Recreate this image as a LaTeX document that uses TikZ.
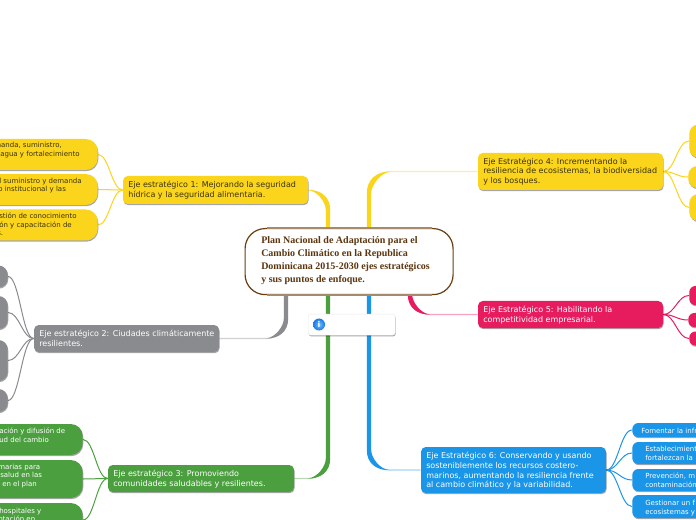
\documentclass[tikz,border=0pt]{standalone}
\usepackage{fontspec}
\setmainfont{DejaVu Sans}
\newfontfamily\titlefont{Liberation Serif}
\usetikzlibrary{calc,shadows,backgrounds}
\definecolor{cyel}{HTML}{FBD51C}
\definecolor{cgry}{HTML}{8A8B8E}
\definecolor{cgrn}{HTML}{4B9F3F}
\definecolor{cpnk}{HTML}{E61C5F}
\definecolor{cblu}{HTML}{1B95E8}
\definecolor{cbrn}{HTML}{6B3E10}
\definecolor{ctan}{HTML}{A58B6B}
\definecolor{ctxt}{HTML}{3A3208}
\tikzset{
  x=0.75pt,y=-0.75pt,
  wh/.style 2 args={minimum width=#1*0.75pt,minimum height=#2*0.75pt},
  shad/.style={general shadow={shadow xshift=0.4pt,shadow yshift=-0.9pt,fill=black,opacity=0.35}},
  mainbox/.style={rectangle,rounded corners=3.6pt,fill=#1,shad,inner sep=0pt,anchor=center},
  subbox/.style={rectangle,rounded corners=9pt,fill=#1,shad,inner sep=0pt},
  blob/.style={rectangle,rounded corners=7pt,fill=#1,shad,inner sep=0pt,anchor=west},
  tinyblob/.style={blob=#1,rounded corners=4.6pt},
  mtxt/.style={font=\fontsize{6pt}{7.3pt}\selectfont,align=left,anchor=north west,inner sep=0pt,text=#1},
  stxt/.style={font=\fontsize{5.25pt}{6.5pt}\selectfont,anchor=base west,inner sep=0pt,text=#1},
  twig/.style={draw=#1,line width=0.75pt},
}
% #1 colour, #2 node point, #3 point on centre, #4 x sign, #5 y sign, #6 radius
\newcommand{\limb}[6]{%
  \draw[#1!40,line width=0.9pt,rounded corners=#6*0.75pt] (#2) -| (#3);
  \coordinate (K) at (#3 |- #2);
  \fill[#1] ($(K)+(#4*#6,0)$)
    .. controls ($(K)+(#4*#6*0.35,-#5*0.3)$) and ($(K)+(-#4*2.2,#5*#6*0.35)$) .. ($(K)+(-#4*2.2,#5*#6)$)
    -- ($(#3)+(-#4*2.2,0)$) -- ($(#3)+(#4*2.2,0)$) -- ($(K)+(#4*2.2,#5*#6)$)
    .. controls ($(K)+(#4*2.2,#5*#6*0.6)$) and ($(K)+(#4*#6*0.55,#5*0.7)$) .. ($(K)+(#4*#6,0)$) -- cycle;
}
\newcommand{\twg}[3]{\draw[twig=#1] (#2) .. controls ($(#2)!0.45!(#2 -| #3)$) and ($(#3)!0.45!(#3 -| #2)$) .. (#3);}
\begin{document}
\begin{tikzpicture}
\useasboundingbox (0,0) rectangle (696,520);
\clip (0,0) rectangle (696,520);

% centre
\node[rectangle,rounded corners=15pt,draw=cbrn,line width=0.9pt,fill=white,wh={208}{66},anchor=north west,inner sep=0pt] (c) at (244.5,228) {};
\draw[ctan,line width=1.1pt] ($(c.north west)+(22,0)$) -- ($(c.north east)+(-22,0)$);
\draw[ctan,line width=1.1pt] ($(c.south west)+(22,0)$) -- ($(c.south east)+(-22,0)$);
\node[font=\titlefont\bfseries\fontsize{7.5pt}{9.8pt}\selectfont,text=cbrn!85!black,align=left,anchor=north west,inner sep=0pt] (ctext) at (261,236.5) {Plan Nacional de Adaptación para el\\Cambio Climático en la Republica\\Dominicana 2015-2030 ejes estratégicos\\y sus puntos de enfoque.};
\coordinate (cy1) at (328,228);
\coordinate (cy2) at (369,228);
\coordinate (cg1) at (286,294);
\coordinate (cg2) at (328,294);
\coordinate (cb) at (369,294);
\coordinate (cp) at (410,294);

% info
\node[rectangle,rounded corners=2pt,fill=white,draw=black!8,line width=0.3pt,shad,wh={87}{21},anchor=north west] (info) at (308,314) {};
\shade[inner color=cblu!60!white,outer color=cblu!80!blue] (319,324.5) circle[radius=6];
\node[font=\bfseries\fontsize{6pt}{6pt}\selectfont,text=white,inner sep=0pt] (infoi) at (319,324.5) {i};

% axis 1
\node[mainbox=cyel,wh={185}{28}] (m1) at (215.5,190) {};
\node[mtxt=ctxt] (m1t) at (128,181) {Eje estratégico 1: Mejorando la seguridad\\hídrica y la seguridad alimentaria.};
\node[subbox=cyel,wh={160}{31},anchor=east] (a1) at (98,154.5) {};
\node[subbox=cyel,wh={160}{31},anchor=east] (a2) at (98,189.5) {};
\node[subbox=cyel,wh={160}{31},anchor=east] (a3) at (98,225) {};
\node[stxt=ctxt] (a1x) at (-6,148) {manda, suministro,};
\node[stxt=ctxt] (a1y) at (0,157) {agua y fortalecimiento};
\node[stxt=ctxt] (a2x) at (-1,184) {l suministro y demanda};
\node[stxt=ctxt] (a2y) at (-2,192) {o institucional y las};
\node[stxt=ctxt] (a3x) at (-1,219) {stión de conocimiento};
\node[stxt=ctxt] (a3y) at (-1,228) {ón y capacitación de};
\node[stxt=ctxt] (a3z) at (-3,236) {s.};

% axis 2
\node[mainbox=cgry,wh={185}{27}] (m2) at (126.5,338.5) {};
\node[mtxt=white] (m2t) at (39,330) {Eje estratégico 2: Ciudades climáticamente\\resilientes.};
\node[blob=cgry,wh={60}{22},anchor=east] (b1) at (8,276.5) {};
\node[blob=cgry,wh={60}{33},anchor=east] (b2) at (8,312.5) {};
\node[blob=cgry,wh={60}{41},anchor=east] (b3) at (8,360.5) {};
\node[blob=cgry,wh={60}{23},anchor=east] (b4) at (8,400.5) {};

% axis 3
\node[mainbox=cgrn,wh={186}{27}] (m3) at (201,478.5) {};
\node[mtxt=white] (m3t) at (113,470) {Eje estratégico 3: Promoviendo\\comunidades saludables y resilientes.};
\node[subbox=cgrn,wh={160}{31},anchor=east] (d1) at (83,439.5) {};
\node[subbox=cgrn,wh={160}{38},anchor=east] (d2) at (83,479) {};
\node[subbox=cgrn,wh={160}{34},anchor=east] (d3) at (83,520) {};
\node[stxt=white] (d1x) at (-1,433) {ación  y difusión de};
\node[stxt=white] (d1y) at (-1,442) {ud del cambio};
\node[stxt=white] (d2x) at (-2,469) {marias para};
\node[stxt=white] (d2y) at (0,477) {salud en las};
\node[stxt=white] (d2z) at (2,486) {en el plan};
\node[stxt=white] (d3x) at (-1,513) {hospitales y};
\node[stxt=white] (d3y) at (-2,521) {ptación en};

% axis 4
\node[mainbox=cyel,wh={185}{37}] (m4) at (570.5,171.5) {};
\node[mtxt=ctxt] (m4t) at (483,157.5) {Eje Estratégico 4: Incrementando la\\resiliencia de ecosistemas, la biodiversidad\\y los bosques.};
\node[blob=cyel,wh={60}{33}] (e1) at (689,141) {};
\node[blob=cyel,wh={60}{22}] (e2) at (688,177) {};
\node[blob=cyel,wh={60}{27}] (e3) at (689,207.5) {};

% axis 5
\node[mainbox=cpnk,wh={185}{27}] (m5) at (570.5,314.5) {};
\node[mtxt=white] (m5t) at (483,306) {Eje Estratégico 5: Habilitando la\\competitividad empresarial.};
\node[tinyblob=cpnk,wh={60}{19}] (f1) at (689,295.5) {};
\node[tinyblob=cpnk,wh={60}{14}] (f2) at (688,320) {};
\node[tinyblob=cpnk,wh={60}{14}] (f3) at (689,338.5) {};

% axis 6
\node[mainbox=cblu,wh={185}{46}] (m6) at (513.5,470) {};
\node[mtxt=white] (m6t) at (426,452) {Eje Estratégico 6: Conservando y usando\\sosteniblemente los recursos costero-\\marinos, aumentando la resiliencia frente\\al cambio climático y la variabilidad.};
\node[tinyblob=cblu,wh={120}{14}] (g1) at (632,430) {};
\node[tinyblob=cblu,wh={120}{22}] (g2) at (632,453) {};
\node[tinyblob=cblu,wh={120}{22}] (g3) at (632,480) {};
\node[tinyblob=cblu,wh={120}{23}] (g4) at (632,506.5) {};
\node[stxt=white] (g1x) at (641,433) {Fomentar la infr};
\node[stxt=white] (g2x) at (645,451) {Establecimient};
\node[stxt=white] (g2y) at (645,460) {fortalezcan la};
\node[stxt=white] (g3x) at (645,478) {Prevención, m};
\node[stxt=white] (g3y) at (645,487) {contaminación};
\node[stxt=white] (g4x) at (645,505) {Gestionar un f};
\node[stxt=white] (g4y) at (645,514) {ecosistemas y};

\begin{pgfonlayer}{background}
  \fill[white] (0,0) rectangle (696,520);
  \limb{cyel}{m1.east}{cy1}{-1}{1}{20}
  \limb{cyel}{m4.west}{cy2}{1}{1}{22}
  \limb{cgry}{m2.east}{cg1}{-1}{-1}{20}
  \limb{cgrn}{m3.east}{cg2}{-1}{-1}{20}
  \limb{cblu}{m6.west}{cb}{1}{-1}{20}
  \limb{cpnk}{m5.west}{cp}{1}{-1}{20}
  \twg{cyel}{m1.west}{a1.east}\twg{cyel}{m1.west}{a2.east}\twg{cyel}{m1.west}{a3.east}
  \twg{cgry}{m2.west}{b1.east}\twg{cgry}{m2.west}{b2.east}\twg{cgry}{m2.west}{b3.east}\twg{cgry}{m2.west}{b4.east}
  \twg{cgrn}{m3.west}{d1.east}\twg{cgrn}{m3.west}{d2.east}\twg{cgrn}{m3.west}{d3.east}
  \twg{cyel}{m4.east}{e1.west}\twg{cyel}{m4.east}{e2.west}\twg{cyel}{m4.east}{e3.west}
  \twg{cpnk}{m5.east}{f1.west}\twg{cpnk}{m5.east}{f2.west}\twg{cpnk}{m5.east}{f3.west}
  \twg{cblu}{m6.east}{g1.west}\twg{cblu}{m6.east}{g2.west}\twg{cblu}{m6.east}{g3.west}\twg{cblu}{m6.east}{g4.west}
\end{pgfonlayer}
\end{tikzpicture}
\end{document}
